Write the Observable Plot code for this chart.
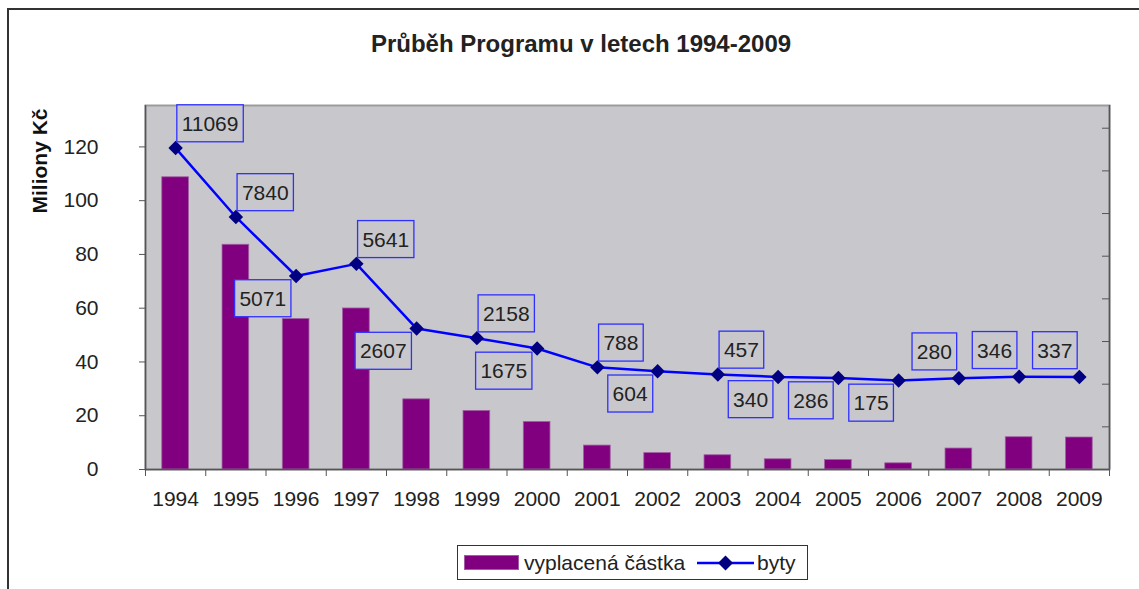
<!DOCTYPE html>
<html>
<head>
<meta charset="utf-8">
<script src="https://cdn.jsdelivr.net/npm/d3@7"></script>
<script src="https://cdn.jsdelivr.net/npm/@observablehq/plot@0.6"></script>
<style>
html, body { margin: 0; padding: 0; background: #fff; }
body { width: 1139px; height: 589px; overflow: hidden; position: relative; font-family: "Liberation Sans", Arial, sans-serif; color: #222; }
#frame { position: absolute; left: 7px; top: 8px; width: 1200px; height: 700px; border-top: 2px solid #333; border-left: 2px solid #333; }
#title { position: absolute; left: 0; top: 32px; width: 1162px; text-align: center; font-weight: bold; font-size: 24px; line-height: 24px; color: #222; }
#chart { position: absolute; left: 0; top: 80px; }
#legend { position: absolute; left: 457px; top: 545px; width: 349px; height: 33px; border: 1px solid #333; display: flex; align-items: center; font-size: 21px; color: #222; background: #fff; }
#legend .sw { width: 55px; height: 15px; background: #800080; margin-left: 6px; box-sizing: border-box; border: 1px solid #a45aa4; }
#legend .t1 { margin-left: 5px; }
#legend svg { margin-left: 12px; }
#legend .t2 { margin-left: 3px; }
</style>
</head>
<body>
<div id="frame"></div>
<div id="title">Průběh Programu v letech 1994-2009</div>
<div id="chart"></div>
<div id="legend">
  <div class="sw"></div><span class="t1">vyplacená částka</span>
  <svg width="57" height="20" viewBox="0 0 57 20"><line x1="0" y1="10" x2="57" y2="10" stroke="#0000ff" stroke-width="2.5"/><path d="M28.5,2.5 L36,10 L28.5,17.5 L21,10 Z" fill="#000080"/></svg><span class="t2">byty</span>
</div>
<script>
// ---- data ----
const years = [1994, 1995, 1996, 1997, 1998, 1999, 2000, 2001, 2002, 2003, 2004, 2005, 2006, 2007, 2008, 2009];
const vyplacenaCastka = [108.7, 83.6, 56.0, 59.9, 26.1, 21.8, 17.7, 8.9, 6.1, 5.3, 3.8, 3.5, 2.3, 7.8, 12.0, 11.9];
const byty = [11069, 7840, 5071, 5641, 2607, 2158, 1675, 788, 604, 457, 340, 286, 175, 280, 346, 337];
const labelPlacement = ["ne", "ne", "sw", "ne", "sw", "ne", "sw", "ne", "sw", "ne", "sw", "sw", "sw", "nw", "nw", "nw"];
const leftTicks = [0, 20, 40, 60, 80, 100, 120];
const rightTicks = [-4000, -2000, 0, 2000, 4000, 6000, 8000, 10000, 12000];

// ---- scales ----
const leftMax = 135.4;
const rightMin = -4000, rightMax = 13065;
const toLeft = v => (v - rightMin) / (rightMax - rightMin) * leftMax;

const data = years.map((year, i) => ({
  year, castka: vyplacenaCastka[i], byty: byty[i], pos: labelPlacement[i], yLine: toLeft(byty[i])
}));
const boundaries = [years[0] - 0.5, ...years.map(y => y + 0.5)];
const half = 0.2215;

const labelOpts = {
  ne: { textAnchor: "start", dx: 6, dy: -24 },
  sw: { textAnchor: "end", dx: -10, dy: 23 },
  nw: { textAnchor: "end", dx: -7, dy: -26 }
};

const plot = Plot.plot({
  width: 1139,
  height: 430,
  marginLeft: 145,
  marginRight: 30,
  marginTop: 25,
  marginBottom: 41,
  style: { fontFamily: "'Liberation Sans', Arial, sans-serif", fontSize: "21px", color: "#222", background: "transparent", overflow: "visible" },
  x: { type: "linear", domain: [boundaries[0], boundaries[boundaries.length - 1]] },
  y: { domain: [0, leftMax] },
  marks: [
    Plot.frame({ fill: "#c8c8cc", stroke: "#9c9c9c", strokeWidth: 2 }),
    Plot.rectY(data, { x1: d => d.year - half, x2: d => d.year + half, y1: 0, y2: "castka", fill: "#800080", stroke: "#a060a0", strokeWidth: 0.8 }),
    Plot.ruleX([boundaries[0], boundaries[boundaries.length - 1]], { stroke: "#555", strokeWidth: 1.5 }),
    Plot.ruleY([0], { stroke: "#555", strokeWidth: 1.5 }),
    Plot.axisY({ ticks: leftTicks, tickSize: 6, tickPadding: 41, label: null, stroke: "#555", fill: "#222" }),
    Plot.axisY({ anchor: "right", ticks: rightTicks.map(toLeft), tickSize: 8, dx: -8, tickFormat: () => "", label: null, stroke: "#555" }),
    Plot.axisX({ ticks: years, tickSize: 0, tickPadding: 22, tickFormat: d => String(d), label: null, fill: "#222" }),
    Plot.axisX({ ticks: boundaries, tickSize: 7, tickFormat: () => "", label: null, stroke: "#555" }),
    Plot.line(data, { x: "year", y: "yLine", stroke: "#0000ff", strokeWidth: 2.5 }),
    Plot.dot(data, { x: "year", y: "yLine", symbol: "diamond2", r: 6.5, fill: "#000080", stroke: "none" }),
    ...Object.entries(labelOpts).map(([p, o]) =>
      Plot.text(data.filter(d => d.pos === p), {
        x: "year", y: "yLine", text: d => String(d.byty),
        textAnchor: o.textAnchor, dx: o.dx, dy: o.dy, lineAnchor: "middle",
        fontSize: 21, fill: "#222", ariaDescription: "datalabel"
      })
    ),
    Plot.text(["Miliony Kč"], {
      text: d => d, frameAnchor: "top-left", rotate: -90, textAnchor: "end", lineAnchor: "middle",
      dx: -105, dy: 3, fontWeight: "bold", fontSize: 21, fill: "#111"
    })
  ]
});

document.getElementById("chart").append(plot);

// boxes around data labels (background-filled, like the original)
const NS = "http://www.w3.org/2000/svg";
plot.querySelectorAll('g[aria-description="datalabel"] text').forEach(t => {
  const bb = t.getBBox();
  const r = document.createElementNS(NS, "rect");
  r.setAttribute("x", bb.x - 4.8);
  r.setAttribute("y", bb.y - 7);
  r.setAttribute("width", bb.width + 9.6);
  r.setAttribute("height", bb.height + 14);
  const tr = t.getAttribute("transform");
  if (tr) r.setAttribute("transform", tr);
  r.setAttribute("fill", "#c8c8cc");
  r.setAttribute("stroke", "#2f2fff");
  r.setAttribute("stroke-width", "1.3");
  t.parentNode.insertBefore(r, t);
});
</script>
</body>
</html>
